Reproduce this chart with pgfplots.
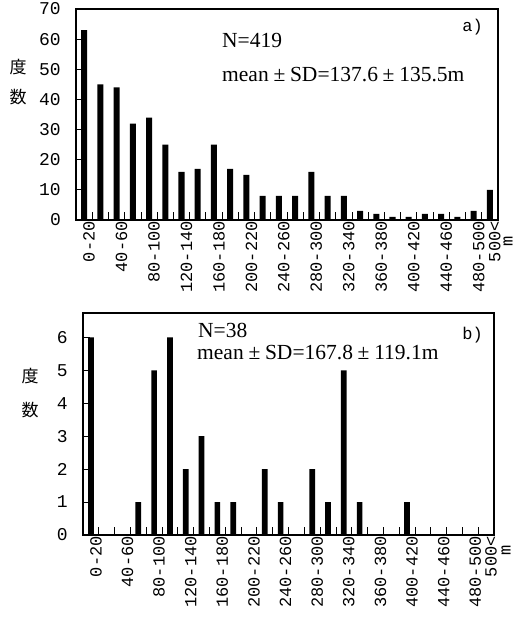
\documentclass[border=0pt]{standalone}
\usepackage{pgfplots}
\usepackage{pgfplotstable}
\pgfplotsset{compat=1.18}
\usepackage{fontspec}
\setmainfont{Liberation Serif}
\newfontfamily\monofont{Liberation Mono}
\newfontfamily\cjk{Noto Sans CJK JP}
\newcommand{\tickfont}{\monofont\fontsize{17bp}{18bp}\selectfont}
\newcommand{\ytickfont}{\monofont\fontsize{18bp}{18bp}\selectfont}
\newcommand{\mypm}{\hspace{0.22em}±\hspace{0.22em}}

\pgfplotstableread{
x y
0 63
1 45
2 44
3 32
4 34
5 25
6 16
7 17
8 25
9 17
10 15
11 8
12 8
13 8
14 16
15 8
16 8
17 3
18 2
19 1
20 1
21 2
22 2
23 1
24 3
25 10
}\dataA

\pgfplotstableread{
x y
0 6
1 0
2 0
3 1
4 5
5 6
6 2
7 3
8 1
9 1
10 0
11 2
12 1
13 0
14 2
15 1
16 5
17 1
18 0
19 0
20 1
21 0
22 0
23 0
24 0
25 0
}\dataB

\pgfplotsset{histo/.style={
  scale only axis, ybar, bar shift=0pt,
  xmin=-0.5, xmax=25.5, ymin=0,
  axis line style={line width=1.1bp},
  xtick={0,2,4,6,8,10,12,14,16,18,20,22,24,25},
  xticklabels={0-20,40-60,80-100,120-140,160-180,200-220,240-260,280-300,320-340,360-380,400-420,440-460,480-500,500<},
  minor xtick={0.5,1.5,2.5,3.5,4.5,5.5,6.5,7.5,8.5,9.5,10.5,11.5,12.5,13.5,14.5,15.5,16.5,17.5,18.5,19.5,20.5,21.5,22.5,23.5,24.5},
  xtick pos=bottom, ytick pos=left, tick align=inside,
  major x tick style={draw=none},
  minor tick length=8bp, major tick length=7bp,
  tick style={line width=0.8bp, black},
  /pgf/number format/assume math mode=true,
  x tick label style={rotate=90, anchor=east, font=\tickfont, inner sep=1bp, yshift=-5bp},
  y tick label style={font=\ytickfont, inner sep=1bp, xshift=-14bp},
}}

\begin{document}
\begin{tikzpicture}
\path[use as bounding box] (0bp,0bp) rectangle (516bp,627bp);
\begin{axis}[histo, at={(76bp,407bp)}, anchor=south west, width=422bp, height=211bp,
  ymax=70, ytick={0,10,...,70}]
\addplot[fill=black, draw=none, bar width=0.37] table {\dataA};
\end{axis}
\begin{axis}[histo, at={(83bp,92bp)}, anchor=south west, width=411bp, height=222bp,
  ymax=6.74, ytick={0,1,...,6}]
\addplot[fill=black, draw=none, bar width=0.36] table {\dataB};
\end{axis}

\node[anchor=base west, inner sep=0pt, font=\fontsize{21.5bp}{22bp}\selectfont] at (222bp,579bp) {N=419};
\node[anchor=base west, inner sep=0pt, font=\fontsize{21.5bp}{22bp}\selectfont] at (222bp,545bp) {mean\mypm SD=137.6\mypm 135.5m};
\node[anchor=base east, inner sep=0pt, font=\monofont\fontsize{17bp}{18bp}\selectfont] at (483bp,595bp) {a)};

\node[anchor=base west, inner sep=0pt, font=\fontsize{21.5bp}{22bp}\selectfont] at (198bp,289bp) {N=38};
\node[anchor=base west, inner sep=0pt, font=\fontsize{21.5bp}{22bp}\selectfont] at (197bp,267bp) {mean\mypm SD=167.8\mypm 119.1m};
\node[anchor=base east, inner sep=0pt, font=\monofont\fontsize{17bp}{18bp}\selectfont] at (483bp,287bp) {b)};

\node[rotate=90, inner sep=0pt, font=\tickfont] at (508bp,386bp) {m};
\node[rotate=90, inner sep=0pt, font=\tickfont] at (506bp,77bp) {m};

\node[inner sep=0pt, font=\cjk\fontsize{17bp}{18bp}\selectfont] at (18bp,560bp) {度};
\node[inner sep=0pt, font=\cjk\fontsize{17bp}{18bp}\selectfont] at (18bp,530bp) {数};
\node[inner sep=0pt, font=\cjk\fontsize{17bp}{18bp}\selectfont] at (30bp,251bp) {度};
\node[inner sep=0pt, font=\cjk\fontsize{17bp}{18bp}\selectfont] at (30bp,217bp) {数};
\end{tikzpicture}
\end{document}
